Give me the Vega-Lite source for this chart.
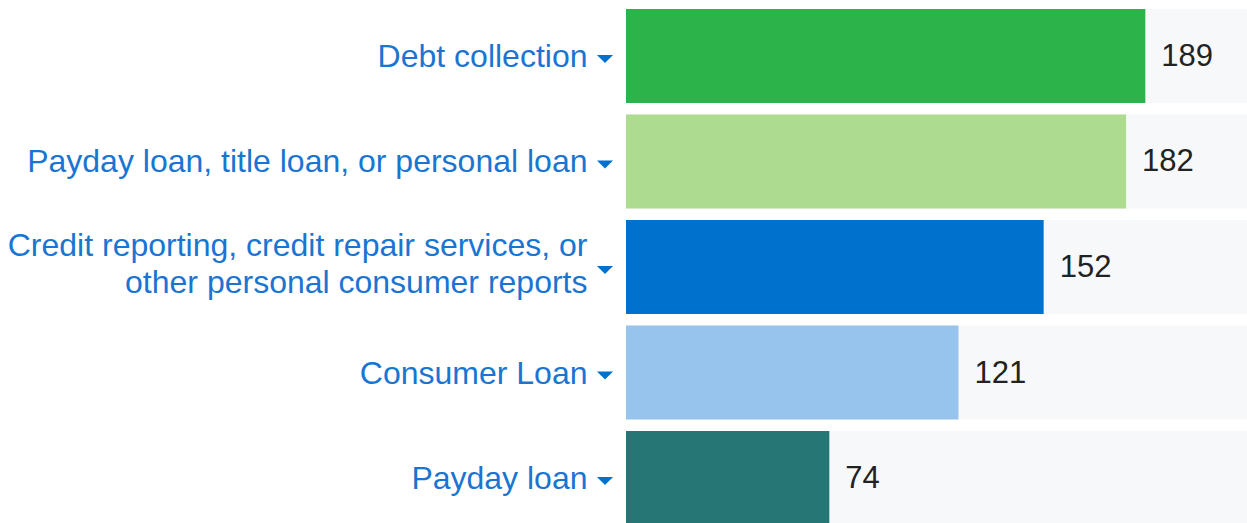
{
  "$schema": "https://vega.github.io/schema/vega-lite/v6.json",
  "autosize": {"type": "none"},
  "padding": {"left": 626, "top": 0, "right": 0, "bottom": 0},
  "width": 621,
  "height": 534,
  "background": "#ffffff",
  "config": {"view": {"stroke": null}, "font": "Liberation Sans"},
  "data": {
    "values": [
      {"product": "Debt collection", "count": 189},
      {"product": "Payday loan, title loan, or personal loan", "count": 182},
      {"product": "Credit reporting, credit repair services, or|other personal consumer reports", "count": 152},
      {"product": "Consumer Loan", "count": 121},
      {"product": "Payday loan", "count": 74}
    ]
  },
  "encoding": {
    "y": {
      "field": "product",
      "type": "nominal",
      "sort": null,
      "scale": {"paddingInner": 0.109, "paddingOuter": 0.085},
      "axis": {
        "title": null,
        "ticks": false,
        "domain": false,
        "labelFont": "Liberation Sans",
        "labelFontSize": 32,
        "labelColor": "#1a75d2",
        "labelPadding": 39,
        "labelLimit": 1000,
        "labelLineHeight": 37,
        "labelExpr": "split(datum.label, '|')",
        "labelOffset": {"condition": {"test": "indexof(datum.value, '|') >= 0", "value": -21}, "value": 1}
      }
    }
  },
  "layer": [
    {
      "mark": {"type": "bar", "color": "#f7f8fa"},
      "encoding": {
        "x": {"datum": 226, "type": "quantitative", "scale": {"domain": [0, 226], "nice": false}, "axis": null}
      }
    },
    {
      "mark": {"type": "bar"},
      "encoding": {
        "x": {"field": "count", "type": "quantitative", "axis": null},
        "color": {
          "field": "product",
          "type": "nominal",
          "legend": null,
          "scale": {
            "domain": [
              "Debt collection",
              "Payday loan, title loan, or personal loan",
              "Credit reporting, credit repair services, or|other personal consumer reports",
              "Consumer Loan",
              "Payday loan"
            ],
            "range": ["#2cb34a", "#addc91", "#0072ce", "#96c4ed", "#257675"]
          }
        }
      }
    },
    {
      "mark": {"type": "text", "align": "left", "baseline": "middle", "dx": 16, "dy": 1, "fontSize": 31, "font": "Liberation Sans", "color": "#222222"},
      "encoding": {
        "x": {"field": "count", "type": "quantitative", "axis": null},
        "text": {"field": "count", "type": "quantitative"}
      }
    },
    {
      "mark": {"type": "point", "shape": "M-1,-0.5L1,-0.5L0,0.5Z", "filled": true, "size": 260, "color": "#0072ce", "opacity": 1, "xOffset": -21, "yOffset": 3, "clip": false},
      "encoding": {
        "x": {"datum": 0, "type": "quantitative", "axis": null}
      }
    }
  ]
}
